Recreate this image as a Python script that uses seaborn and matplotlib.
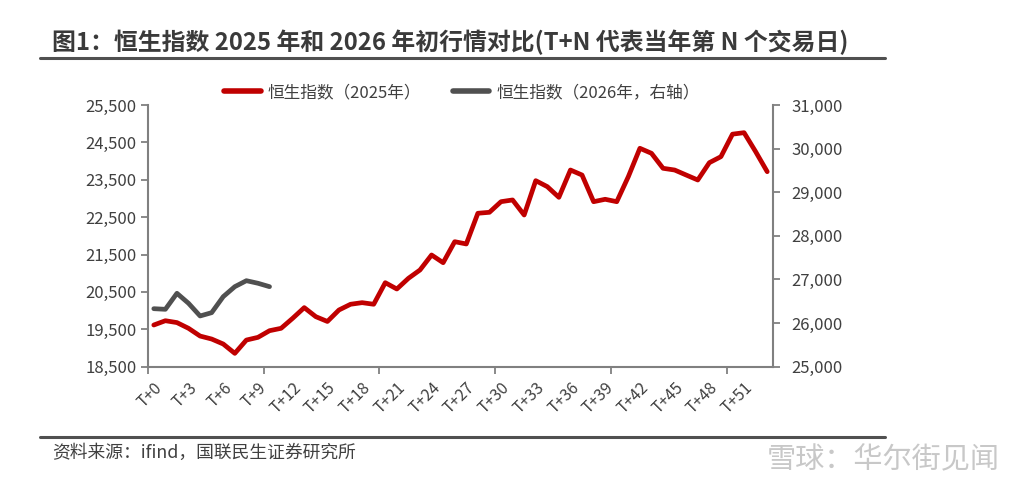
import matplotlib
matplotlib.use("Agg")
import matplotlib.pyplot as plt
import seaborn as sns
import pandas as pd
import numpy as np
from matplotlib.lines import Line2D

# ---- data ----
days_2025 = list(range(54))
hsi_2025 = [19615, 19730, 19680, 19527, 19320, 19240, 19107, 18857, 19213, 19285,
            19463, 19527, 19795, 20080, 19838, 19710, 20017, 20170, 20213, 20170,
            20747, 20578, 20864, 21087, 21488, 21282, 21844, 21783, 22604, 22630,
            22914, 22960, 22558, 23476, 23316, 23031, 23761, 23627, 22914, 22978,
            22914, 23583, 24342, 24208, 23807, 23761, 23627, 23494, 23957, 24118,
            24720, 24760, 24252, 23716]
days_2026 = list(range(11))
hsi_2026 = [26330, 26316, 26683, 26454, 26163, 26239, 26606, 26835, 26972, 26913, 26835]

tick_pos = list(range(0, 54, 3))
tick_labels = [f"T+{i}" for i in tick_pos]
left_ticks = [18500, 19500, 20500, 21500, 22500, 23500, 24500, 25500]
right_ticks = [25000, 26000, 27000, 28000, 29000, 30000, 31000]

title = "图1：恒生指数 2025 年和 2026 年初行情对比(T+N 代表当年第 N 个交易日)"
source = "资料来源：ifind，国联民生证券研究所"
label_2025 = "恒生指数（2025年）"
label_2026 = "恒生指数（2026年，右轴）"

df25 = pd.DataFrame({"day": days_2025, "value": hsi_2025})
df26 = pd.DataFrame({"day": days_2026, "value": hsi_2026})

sns.set_theme(style="white")
plt.rcParams['font.family'] = ['Noto Sans CJK SC', 'DejaVu Sans']
plt.rcParams['axes.unicode_minus'] = False

RED = "#C00000"
GRAY = "#505050"
TXT = "#404040"
SPINE = "#808080"

fig = plt.figure(figsize=(10.24, 4.91), dpi=100)
ax = fig.add_axes([148/1024, 1-366.7/491, (773-148)/1024, (366.7-105)/491])
ax2 = ax.twinx()

sns.lineplot(data=df25, x="day", y="value", ax=ax, color=RED, linewidth=3.4,
             solid_capstyle="round", solid_joinstyle="round", legend=False)
sns.lineplot(data=df26, x="day", y="value", ax=ax2, color=GRAY, linewidth=3.4,
             solid_capstyle="round", solid_joinstyle="round", legend=False)

ax.set_xlim(-0.5, 53.5)
ax.set_ylim(18500, 25500)
ax2.set_ylim(25000, 31000)
ax.set_xlabel("")
ax.set_ylabel("")
ax2.set_ylabel("")

ax.set_yticks(left_ticks)
ax.set_yticklabels([f"{v:,}" for v in left_ticks])
ax2.set_yticks(right_ticks)
ax2.set_yticklabels([f"{v:,}" for v in right_ticks])

ax.set_xticks(tick_pos)
ax.set_xticklabels(tick_labels, rotation=45, ha="right", rotation_mode="anchor")
ax.set_xticks([i - 0.5 for i in range(0, 54, 10)], minor=True)

ax.tick_params(axis="x", which="major", length=0, pad=9, labelsize=11.5, colors=TXT)
ax.tick_params(axis="x", which="minor", length=5, width=1.3, color=SPINE, direction="out", bottom=True)
ax.tick_params(axis="y", length=5, width=1.3, color=SPINE, direction="out", left=True,
               labelsize=12, labelcolor=TXT, pad=3)
ax2.tick_params(axis="y", length=5, width=1.3, color=SPINE, direction="out", right=True,
                labelsize=12, labelcolor=TXT, pad=8)

for a in (ax, ax2):
    a.spines["top"].set_visible(False)
    for s in ("left", "right", "bottom"):
        a.spines[s].set_color(SPINE)
        a.spines[s].set_linewidth(1.5)
    a.grid(False)
ax.spines["right"].set_visible(False)
ax2.spines["left"].set_visible(False)
ax2.spines["bottom"].set_visible(False)

handles = [Line2D([0], [0], color=RED, lw=4, solid_capstyle="round"),
           Line2D([0], [0], color=GRAY, lw=4, solid_capstyle="round")]
fig.legend(handles, [label_2025, label_2026], loc="center", bbox_to_anchor=(0.451, 0.811),
           ncol=2, frameon=False, fontsize=12, handlelength=2.2, columnspacing=1.9,
           handletextpad=0.4, labelcolor=TXT)

fig.text(52/1024, 1-42/491, title, fontsize=17.2, fontweight="bold", color="#3A3A3A",
         ha="left", va="center")
fig.add_artist(Line2D([40/1024, 885/1024], [1-58/491, 1-58/491], color="#505050", lw=2.2))
fig.add_artist(Line2D([40/1024, 885/1024], [1-437/491, 1-437/491], color="#505050", lw=2.2))
fig.text(52/1024, 1-453/491, source, fontsize=12.8, color=TXT, ha="left", va="center")
fig.text(1000/1024, 1-460/491, "雪球：华尔街见闻", fontsize=21, color="#C8C8C8",
         ha="right", va="center")

fig.savefig("out.png", dpi=100)
